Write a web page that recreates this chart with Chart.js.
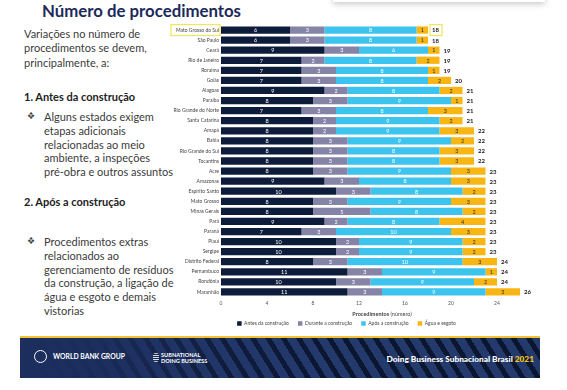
<!DOCTYPE html>
<html>
<head>
<meta charset="utf-8">
<script src="https://cdn.jsdelivr.net/npm/chart.js@4.4.1/dist/chart.umd.min.js"></script>
<style>
  body { margin: 0; width: 567px; height: 390px; background: #fff; position: relative; overflow: hidden; font-family: Lato, "Noto Sans", sans-serif; color: #3b3b3b; }
  .abs { position: absolute; }
  h1 { position: absolute; left: 42px; top: 1px; margin: 0; font-size: 16.8px; line-height: 20px; font-weight: 700; color: #1b2a5a; }
  .txt { font-size: 11px; line-height: 14.3px; }
  .bold { font-weight: 700; color: #222; font-size: 11px; }
  .bul { font-size: 11px; line-height: 13.8px; }
  .bul .mark { position: absolute; left: -17px; top: 0; font-size: 8.5px; color: #444; }
  .shadow { left: 333px; top: -20px; width: 212px; height: 22px; box-shadow: 0 2px 6px rgba(0,0,0,0.22); background: #fff; }
  .banner { left: 20px; top: 336px; width: 520px; height: 40px; border-top: 2px solid #f2c232;
    background:
      linear-gradient(to right, #1b2e5e 0%, rgba(27,46,94,0.9) 15%, rgba(27,46,94,0.25) 40%, rgba(27,46,94,0) 60%),
      repeating-linear-gradient(58deg, #24396c 0px, #24396c 8px, #0b1631 8px, #0b1631 13px); }
  .wb { left: 14px; top: 14px; color: #fff; font-size: 6.8px; font-weight: 700; }
  .globe { left: 14px; top: 12px; width: 11px; height: 11px; border: 1.3px solid #fff; border-radius: 50%; }
  .sub { left: 141px; top: 14px; color: #fff; font-size: 5.6px; font-weight: 700; line-height: 6px; }
  .subicon { left: 133px; top: 15px; width: 6px; height: 9px;
    background: repeating-linear-gradient(to bottom, #ddd 0px, #ddd 1px, transparent 1px, transparent 2px); border-radius: 3px; }
  .right { right: 6px; top: 16px; color: #fff; font-size: 8.3px; font-weight: 900; }
  .right span { color: #f5c518; }
</style>
</head>
<body>
<div class="abs shadow"></div>
<h1>Número de procedimentos</h1>

<div class="abs txt" style="left:24px;top:27px;">Variações no número de<br>procedimentos se devem,<br>principalmente, a:</div>
<div class="abs bold" style="left:24px;top:90px;">1. Antes da construção</div>
<div class="abs bul" style="left:44px;top:110px;"><span class="mark">&#10070;</span>Alguns estados exigem<br>etapas adicionais<br>relacionadas ao meio<br>ambiente, a inspeções<br>pré-obra e outros assuntos</div>
<div class="abs bold" style="left:24px;top:195px;">2. Após a construção</div>
<div class="abs bul" style="left:44px;top:235px;"><span class="mark">&#10070;</span>Procedimentos extras<br>relacionados ao<br>gerenciamento de resíduos<br>da construção, a ligação de<br>água e esgoto e demais<br>vistorias</div>

<div class="abs" style="left:150px;top:20px;width:415px;height:316px;">
  <canvas id="chart" width="415" height="316"></canvas>
</div>

<div class="abs banner">
  <div class="abs globe"></div>
  <div class="abs wb" style="left:33px;">WORLD BANK GROUP</div>
  <div class="abs subicon"></div>
  <div class="abs sub">SUBNATIONAL<br>DOING BUSINESS</div>
  <div class="abs right">Doing Business Subnacional Brasil <span>2021</span></div>
</div>

<script>
const states = ["Mato Grosso do Sul", "São Paulo", "Ceará", "Rio de Janeiro", "Roraima", "Goiás", "Alagoas", "Paraíba",
  "Rio Grande do Norte", "Santa Catarina", "Amapá", "Bahia", "Rio Grande do Sul", "Tocantins", "Acre", "Amazonas",
  "Espírito Santo", "Mato Grosso", "Minas Gerais", "Pará", "Paraná", "Piauí", "Sergipe", "Distrito Federal",
  "Pernambuco", "Rondônia", "Maranhão"];
const antes   = [6, 6, 9, 7, 7, 7, 9, 8, 7, 8, 8, 8, 8, 8, 8, 9, 10, 8, 8, 9, 7, 10, 10, 8, 11, 10, 11];
const durante = [3, 3, 3, 2, 3, 3, 2, 3, 3, 2, 2, 3, 3, 3, 3, 3, 3, 3, 5, 2, 3, 2, 2, 3, 3, 3, 3];
const apos    = [8, 8, 6, 8, 8, 8, 8, 9, 8, 9, 9, 9, 8, 8, 9, 8, 8, 9, 8, 8, 10, 9, 9, 10, 9, 9, 9];
const agua    = [1, 1, 1, 2, 1, 2, 2, 1, 3, 2, 3, 2, 3, 3, 3, 3, 2, 3, 2, 4, 3, 2, 2, 3, 1, 2, 3];
const totals  = [18, 18, 19, 19, 19, 20, 21, 21, 21, 21, 22, 22, 22, 22, 23, 23, 23, 23, 23, 23, 23, 23, 23, 24, 24, 24, 26];
const xTicks  = [0, 4, 8, 12, 16, 20, 24];

const FONT = "Lato, 'Noto Sans', sans-serif";

// valores dentro das barras, totais e destaque da primeira linha
const labelPlugin = {
  id: "segLabels",
  afterDatasetsDraw(chart) {
    const ctx = chart.ctx;
    const xs = chart.scales.x;
    const ca = chart.chartArea;
    ctx.save();
    ctx.font = "5.5px " + FONT;
    ctx.textAlign = "center";
    ctx.textBaseline = "middle";
    chart.data.datasets.forEach((ds, i) => {
      chart.getDatasetMeta(i).data.forEach((bar, j) => {
        ctx.fillStyle = i === 3 ? "#333" : "#fff";
        ctx.fillText(ds.data[j], (bar.x + bar.base) / 2, bar.y + 0.5);
      });
    });

    const meta = chart.getDatasetMeta(3);
    ctx.textAlign = "left";
    ctx.fillStyle = "#222";
    ctx.font = "bold 6px " + FONT;
    totals.forEach((t, j) => {
      ctx.fillText(t, xs.getPixelForValue(t) + 4, meta.data[j].y + 0.5);
    });

    // caixas amarelas
    const y0 = meta.data[0].y;
    ctx.strokeStyle = "#f3e55a";
    ctx.lineWidth = 1.2;
    ctx.font = "5px " + FONT;
    const lw = ctx.measureText(states[0]).width;
    ctx.strokeRect(ca.left - lw - 7, y0 - 5.5, lw + 6, 11);
    const tx = xs.getPixelForValue(totals[0]) + 4;
    ctx.strokeRect(tx - 2, y0 - 5.5, 12, 11);

    // título do eixo
    const cx = (ca.left + ca.right) / 2;
    const ty = ca.bottom + 17;
    ctx.font = "bold 5.5px " + FONT;
    const w1 = ctx.measureText("Procedimentos ").width;
    ctx.font = "5.5px " + FONT;
    const w2 = ctx.measureText("(número)").width;
    const sx = cx - (w1 + w2) / 2;
    ctx.fillStyle = "#444";
    ctx.font = "bold 5.5px " + FONT;
    ctx.fillText("Procedimentos ", sx, ty);
    ctx.font = "5.5px " + FONT;
    ctx.fillText("(número)", sx + w1, ty);
    ctx.restore();
  }
};

new Chart(document.getElementById("chart"), {
  type: "bar",
  data: {
    labels: states,
    datasets: [
      { label: "Antes da construção", data: antes, backgroundColor: "#0c1c3a" },
      { label: "Durante a construção", data: durante, backgroundColor: "#8583a6" },
      { label: "Após a construção", data: apos, backgroundColor: "#3cc4ef" },
      { label: "Água e esgoto", data: agua, backgroundColor: "#f7b614" }
    ]
  },
  options: {
    indexAxis: "y",
    responsive: false,
    animation: false,
    layout: { padding: { top: 5, right: 22, left: 0, bottom: 0 } },
    datasets: { bar: { barPercentage: 0.72, categoryPercentage: 1 } },
    scales: {
      x: {
        stacked: true,
        min: 0,
        max: 28,
        grid: { display: false, drawTicks: false, tickLength: 0 },
        border: { display: false },
        afterBuildTicks: (scale) => { scale.ticks = xTicks.map(v => ({ value: v })); },
        afterFit: (scale) => { scale.height = 15; },
        ticks: { color: "#555", font: { size: 5, family: FONT }, padding: 3 }
      },
      y: {
        stacked: true,
        grid: { display: false, drawTicks: false, tickLength: 0 },
        border: { display: false },
        afterFit: (scale) => { scale.width = 71; },
        ticks: { color: "#444", font: { size: 5, family: FONT }, padding: 2, autoSkip: false }
      }
    },
    plugins: {
      legend: {
        position: "bottom",
        labels: { boxWidth: 4.5, boxHeight: 4.5, padding: 9, color: "#444", font: { size: 5, family: FONT } }
      },
      tooltip: { enabled: false }
    }
  },
  plugins: [labelPlugin]
});
</script>
</body>
</html>
